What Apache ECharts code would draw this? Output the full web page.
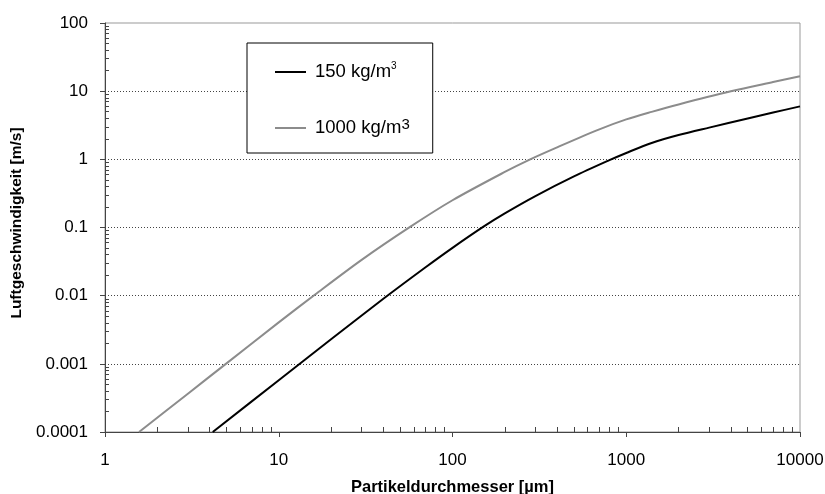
<!DOCTYPE html>
<html>
<head>
<meta charset="utf-8">
<script src="https://cdn.jsdelivr.net/npm/echarts@6.0.0/dist/echarts.min.js"></script>
<style>
  html, body { margin: 0; padding: 0; background: #fff; }
  #chart { width: 825px; height: 494px; }
</style>
</head>
<body>
<div id="chart"></div>
<script>
// Partikeldurchmesser [µm] / Luftgeschwindigkeit [m/s]
const diameters150 = [4.17, 10, 20, 40, 70, 100, 150, 200, 300, 500, 800, 1000, 1400, 2000, 3000, 5000, 7000, 10000];
const velocity150 = [0.0001, 0.000575, 0.0023, 0.009, 0.0261, 0.0503, 0.102, 0.161, 0.289, 0.561, 0.972, 1.24, 1.74, 2.27, 2.92, 3.97, 4.86, 5.98];

const diameters1000 = [1.57, 3, 4.9, 10, 16.2, 30, 57, 100, 200, 280, 400, 700, 1000, 1400, 2000, 4000, 7000, 10000];
const velocity1000 = [0.0001, 0.000365, 0.000974, 0.00406, 0.0104, 0.0335, 0.102, 0.251, 0.653, 1.0, 1.5, 2.75, 3.85, 4.97, 6.38, 9.94, 13.6, 16.5];

const seriesNames = ['150 kg/m³', '1000 kg/m³'];
const xTickLabels = ['1', '10', '100', '1000', '10000'];
const yTickLabels = ['0.0001', '0.001', '0.01', '0.1', '1', '10', '100'];

// minor ticks at 2..9 of every decade
const minorX = [];
for (let d = 1; d < 10000; d *= 10) for (let k = 2; k <= 9; k++) minorX.push(k * d);
const minorY = [];
for (let d = 0.0001; d < 99; d *= 10) for (let k = 2; k <= 9; k++) minorY.push(+(k * d).toPrecision(3));

const font = '"Liberation Sans", Arial, sans-serif';
const axisColor = '#444';

const chart = echarts.init(document.getElementById('chart'), null, { renderer: 'canvas' });

const option = {
  animation: false,
  textStyle: { fontFamily: font, color: '#000' },
  grid: {
    left: 105, right: 25, top: 23, bottom: 62,
    outerBoundsMode: 'none',
    containLabel: false,
    show: true, borderColor: '#999', borderWidth: 1
  },
  legend: {
    orient: 'vertical',
    left: 247, top: 43,
    padding: [18, 23, 15.5, 28],
    itemGap: 35.5,
    itemWidth: 31, itemHeight: 2,
    borderColor: '#000', borderWidth: 1,
    backgroundColor: '#fff',
    data: [
      { name: seriesNames[0], icon: 'rect', itemStyle: { color: '#000' } },
      { name: seriesNames[1], icon: 'rect', itemStyle: { color: '#8c8c8c' } }
    ],
    formatter: name => name === seriesNames[0]
      ? '{t|' + name.replace('³', '') + '}{s1|3}'
      : '{t|' + name.replace('³', '') + '}{s2|3}',
    textStyle: {
      rich: {
        t: { fontFamily: font, fontSize: 18.5, color: '#000', padding: [0, 0, 0, 4], lineHeight: 22 },
        s1: { fontFamily: font, fontSize: 10, color: '#000', verticalAlign: 'top', lineHeight: 12 },
        s2: { fontFamily: font, fontSize: 15, color: '#000', verticalAlign: 'top', lineHeight: 14 }
      }
    }
  },
  xAxis: [
    {
      type: 'log', logBase: 10, min: 1, max: 10000,
      name: 'Partikeldurchmesser [µm]',
      nameLocation: 'middle', nameGap: 47,
      nameTextStyle: { fontFamily: font, fontSize: 16.5, fontWeight: 'bold', color: '#000' },
      axisLine: { show: true, onZero: false, lineStyle: { color: axisColor, width: 1 } },
      axisTick: { show: true, inside: false, length: 5, lineStyle: { color: axisColor } },
      axisLabel: {
        fontFamily: font, fontSize: 17, color: '#000', margin: 20,
        formatter: v => xTickLabels[Math.round(Math.log10(v))]
      },
      splitLine: { show: false },
      minorTick: { show: false }
    },
    {
      type: 'log', logBase: 10, min: 1, max: 10000, position: 'bottom',
      axisLine: { show: false },
      axisTick: { show: true, inside: true, length: 5, customValues: minorX, lineStyle: { color: axisColor } },
      axisLabel: { show: false },
      splitLine: { show: false }
    }
  ],
  yAxis: [
    {
      type: 'log', logBase: 10, min: 0.0001, max: 100,
      name: 'Luftgeschwindigkeit [m/s]',
      nameLocation: 'middle', nameGap: 73,
      nameTextStyle: { fontFamily: font, fontSize: 15.5, fontWeight: 'bold', color: '#000', padding: [0, 0, 0, 9] },
      axisLine: { show: true, onZero: false, lineStyle: { color: axisColor, width: 1 } },
      axisTick: { show: true, inside: false, length: 5, lineStyle: { color: axisColor } },
      axisLabel: {
        fontFamily: font, fontSize: 17, color: '#000', margin: 17,
        formatter: v => yTickLabels[Math.round(Math.log10(v)) + 4]
      },
      splitLine: {
        show: true, showMinLine: false, showMaxLine: false,
        lineStyle: { color: '#444', width: 1, type: [1, 2] }
      }
    },
    {
      type: 'log', logBase: 10, min: 0.0001, max: 100, position: 'left',
      axisLine: { show: false },
      axisTick: { show: true, inside: true, length: 4, customValues: minorY, lineStyle: { color: axisColor } },
      axisLabel: { show: false },
      splitLine: { show: false }
    }
  ],
  series: [
    {
      name: seriesNames[0],
      type: 'line',
      xAxisIndex: 0, yAxisIndex: 0,
      data: diameters150.map((d, i) => [d, velocity150[i]]),
      showSymbol: false, symbol: 'none',
      smooth: 0.3,
      lineStyle: { color: '#000', width: 2 },
      itemStyle: { color: '#000' },
      z: 3
    },
    {
      name: seriesNames[1],
      type: 'line',
      xAxisIndex: 0, yAxisIndex: 0,
      data: diameters1000.map((d, i) => [d, velocity1000[i]]),
      showSymbol: false, symbol: 'none',
      smooth: 0.3,
      lineStyle: { color: '#8c8c8c', width: 2 },
      itemStyle: { color: '#8c8c8c' },
      z: 2
    }
  ]
};

chart.setOption(option);
</script>
</body>
</html>
